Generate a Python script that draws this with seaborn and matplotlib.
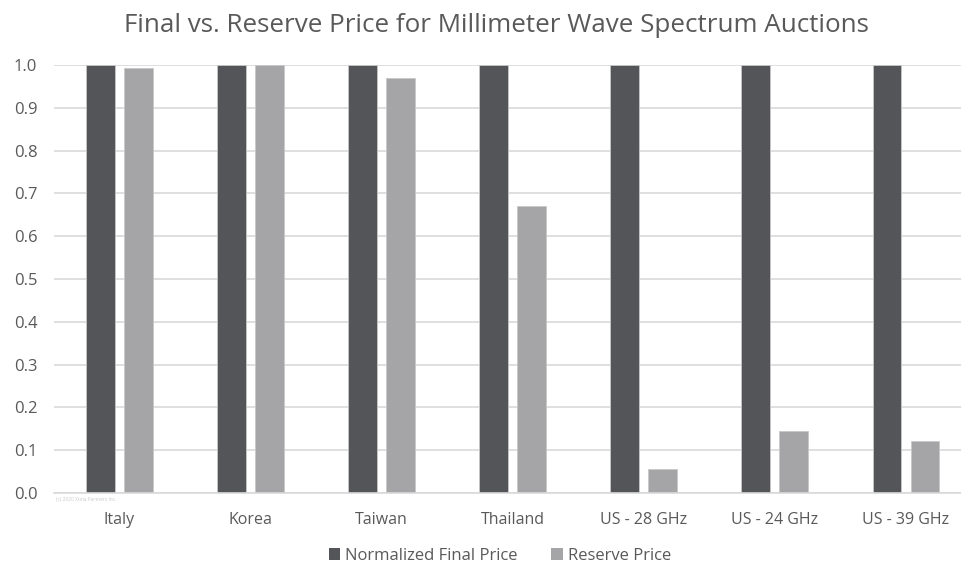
import matplotlib
matplotlib.use("Agg")
import matplotlib.pyplot as plt
from matplotlib.patches import Patch
import seaborn as sns
import pandas as pd

categories = ["Italy", "Korea", "Taiwan", "Thailand", "US - 28 GHz", "US - 24 GHz", "US - 39 GHz"]
final_price = [1.0, 1.0, 1.0, 1.0, 1.0, 1.0, 1.0]
reserve_price = [0.993, 1.0, 0.97, 0.67, 0.056, 0.145, 0.121]
series_names = ["Normalized Final Price", "Reserve Price"]
y_ticks = [0.0, 0.1, 0.2, 0.3, 0.4, 0.5, 0.6, 0.7, 0.8, 0.9, 1.0]

df = pd.DataFrame({
    "category": categories * 2,
    "value": final_price + reserve_price,
    "series": [series_names[0]] * len(categories) + [series_names[1]] * len(categories),
})

sns.set_theme(style="white")
plt.rcParams["font.family"] = ["Open Sans", "DejaVu Sans"]

text_color = "#595959"
grid_color = "#d9d9d9"
palette = {series_names[0]: "#545558", series_names[1]: "#a5a5a7"}

fig = plt.figure(figsize=(9.61, 5.65), dpi=100)
ax = fig.add_axes([54 / 961, 1 - 493 / 565, (961 - 54) / 961, (493 - 65) / 565])

sns.barplot(data=df, x="category", y="value", hue="series", palette=palette,
            width=0.58, gap=0.24, ax=ax, legend=False, saturation=1,
            edgecolor="#c8c8c8", linewidth=0.6)

ax.set_xlim(-0.5, 6.42)
ax.set_ylim(0, 1.0)
ax.set_yticks(y_ticks)
ax.set_yticklabels([f"{t:.1f}" for t in y_ticks])
ax.yaxis.grid(True, color=grid_color, linewidth=1.2)
ax.set_axisbelow(True)
for s in ["top", "right", "left"]:
    ax.spines[s].set_visible(False)
ax.spines["bottom"].set_color(grid_color)
ax.spines["bottom"].set_linewidth(1.2)
ax.set_xlabel("")
ax.set_ylabel("")
ax.tick_params(axis="y", length=0, pad=12, labelsize=12, labelcolor=text_color)
ax.tick_params(axis="x", length=0, pad=14, labelsize=11.5, labelcolor=text_color)

fig.text(496 / 961, 1 - 26 / 565, "Final vs. Reserve Price for Millimeter Wave Spectrum Auctions",
         ha="center", va="center", fontsize=18.7, color=text_color)

fig.text(56 / 961, 1 - 500 / 565, "(c) 2020 Xona Partners Inc.", fontsize=3.5,
         color="#c8c8c8", ha="left", va="center")

handles = [Patch(facecolor=palette[n], edgecolor="none") for n in series_names]
fig.legend(handles, series_names, loc="center", bbox_to_anchor=(500 / 961, 1 - 556 / 565),
           ncol=2, frameon=False, fontsize=12, labelcolor=text_color,
           handlelength=0.7, handleheight=0.7, handletextpad=0.3, columnspacing=2.0)

fig.savefig("out.png", dpi=100)
